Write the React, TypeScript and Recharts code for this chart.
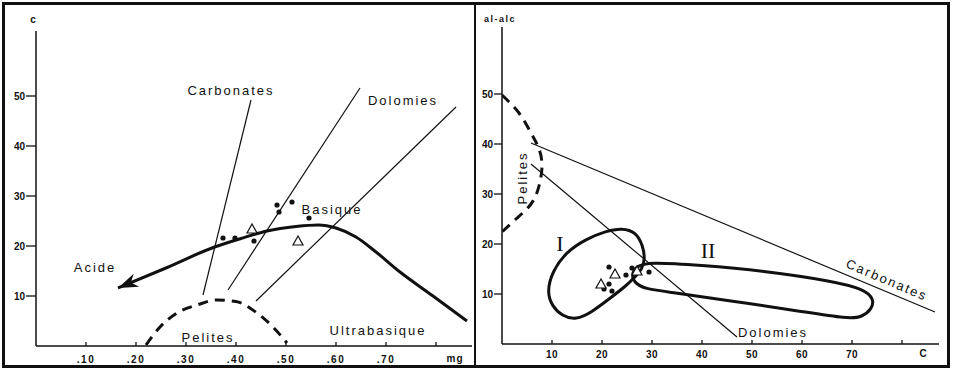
import React from "react";
import { ComposedChart, Line, Scatter, XAxis, YAxis, ReferenceDot } from "recharts";

// ---- left diagram : c vs mg ----
const mgTicks = [0.1, 0.2, 0.3, 0.4, 0.5, 0.6, 0.7, 0.8];
const cTicks = [10, 20, 30, 40, 50];

const trendCurve = [
    { x: 0.164, y: 11.6 },
    { x: 0.26, y: 15.6 },
    { x: 0.352, y: 19.6 },
    { x: 0.41, y: 21.5 },
    { x: 0.462, y: 23.0 },
    { x: 0.52, y: 23.9 },
    { x: 0.565, y: 24.2 },
    { x: 0.6, y: 23.6 },
    { x: 0.64, y: 21.8 },
    { x: 0.68, y: 18.8 },
    { x: 0.728, y: 14.8 },
    { x: 0.794, y: 10.0 },
    { x: 0.862, y: 5.0 },
];
const carbonatesMg = [
    { x: 0.334, y: 10.2 },
    { x: 0.43, y: 49.2 },
];
const dolomiesMgA = [
    { x: 0.384, y: 11.2 },
    { x: 0.648, y: 51.6 },
];
const dolomiesMgB = [
    { x: 0.44, y: 9.0 },
    { x: 0.84, y: 47.8 },
];
const pelitesMg = [
    { x: 0.22, y: 0.2 },
    { x: 0.248, y: 3.8 },
    { x: 0.282, y: 6.6 },
    { x: 0.322, y: 8.2 },
    { x: 0.362, y: 9.2 },
    { x: 0.4, y: 8.9 },
    { x: 0.442, y: 6.6 },
    { x: 0.474, y: 3.8 },
    { x: 0.502, y: 0.6 },
];
const dotsMg = [
    { x: 0.374, y: 21.6 },
    { x: 0.398, y: 21.6 },
    { x: 0.436, y: 21.0 },
    { x: 0.482, y: 28.2 },
    { x: 0.486, y: 26.8 },
    { x: 0.512, y: 28.8 },
    { x: 0.546, y: 25.6 },
];
const trianglesMg = [
    { x: 0.432, y: 23.4 },
    { x: 0.524, y: 21.0 },
];

// ---- right diagram : al-alc vs C ----
const cAxisTicks = [10, 20, 30, 40, 50, 60, 70, 80];
const alTicks = [10, 20, 30, 40, 50];

const pelitesAl = [
    { x: 0, y: 49.8 },
    { x: 3.4, y: 46.2 },
    { x: 5.8, y: 42.2 },
    { x: 7.4, y: 39.0 },
    { x: 8.0, y: 35.6 },
    { x: 7.4, y: 31.6 },
    { x: 5.8, y: 28.0 },
    { x: 2.8, y: 25.0 },
    { x: 0, y: 22.4 },
];
const carbonatesAl = [
    { x: 5.8, y: 40.2 },
    { x: 86.6, y: 6.4 },
];
const dolomiesAl = [
    { x: 5.8, y: 36.0 },
    { x: 47, y: 1.4 },
];
const fieldOne = [
    { x: 9, y: 10.4 },
    { x: 10, y: 14.4 },
    { x: 12.8, y: 18.4 },
    { x: 16.8, y: 21 },
    { x: 20.8, y: 22.6 },
    { x: 24, y: 23.2 },
    { x: 26.8, y: 22.4 },
    { x: 28.2, y: 19.6 },
    { x: 28.6, y: 17 },
    { x: 28, y: 15 },
    { x: 26.8, y: 13.6 },
    { x: 24.8, y: 11.6 },
    { x: 21.4, y: 9 },
    { x: 18, y: 6.4 },
    { x: 14.8, y: 4.8 },
    { x: 12, y: 5.6 },
    { x: 10, y: 7.6 },
];
const fieldTwo = [
    { x: 25.8, y: 13.6 },
    { x: 26.8, y: 15.6 },
    { x: 29.4, y: 16.4 },
    { x: 39.4, y: 15.8 },
    { x: 52.8, y: 14.6 },
    { x: 66, y: 12.6 },
    { x: 72.4, y: 11 },
    { x: 74.4, y: 9 },
    { x: 74, y: 7 },
    { x: 72, y: 5.4 },
    { x: 69.4, y: 5 },
    { x: 59.4, y: 6.6 },
    { x: 46, y: 8.6 },
    { x: 33.4, y: 10.4 },
    { x: 28.8, y: 11 },
    { x: 26.8, y: 12 },
];
const dotsAl = [
    { x: 21.4, y: 15.4 },
    { x: 20.4, y: 11 },
    { x: 22, y: 10.6 },
    { x: 21.4, y: 12 },
    { x: 24.8, y: 13.8 },
    { x: 26, y: 15.2 },
    { x: 29.4, y: 14.4 },
];
const trianglesAl = [
    { x: 22.6, y: 14 },
    { x: 19.8, y: 12 },
    { x: 27, y: 14.6 },
];

const INK = "#111";
const SANS = "'Liberation Sans', Arial, sans-serif";

const DotShape = (p: any) => <circle cx={p.cx} cy={p.cy} r={2.6} fill={INK} />;
const TriShape = (p: any) => (
    <polygon
        points={`${p.cx},${p.cy - 5} ${p.cx - 5},${p.cy + 4} ${p.cx + 5},${p.cy + 4}`}
        fill="#fff"
        stroke={INK}
        strokeWidth={1.2}
    />
);

function note(x: number, y: number, text: string, opts: any = {}) {
    const { size = 13, spacing = 2, rotate = 0, family = SANS, weight = "normal" } = opts;
    return (
        <ReferenceDot
            key={text + x}
            x={x}
            y={y}
            r={0}
            ifOverflow="visible"
            shape={(p: any) => (
                <text
                    x={p.cx}
                    y={p.cy}
                    textAnchor="middle"
                    dominantBaseline="central"
                    fontFamily={family}
                    fontSize={size}
                    fontWeight={weight}
                    letterSpacing={spacing}
                    fill={INK}
                    transform={rotate ? `rotate(${rotate} ${p.cx} ${p.cy})` : undefined}
                >
                    {text}
                </text>
            )}
        />
    );
}

const bottomTick = (dy: number, hide: number, spacing: number, fmt: (v: number) => string) => (p: any) => (
    <g>
        <line x1={p.x} y1={p.y} x2={p.x} y2={p.y - 4} stroke={INK} strokeWidth={1.3} />
        {p.payload.value !== hide && (
            <text
                x={p.x}
                y={p.y + dy}
                textAnchor="middle"
                dominantBaseline="central"
                fontFamily={SANS}
                fontSize={10}
                fontWeight="bold"
                letterSpacing={spacing}
                fill={INK}
            >
                {fmt(p.payload.value)}
            </text>
        )}
    </g>
);

const leftTick = (len: number) => (p: any) => (
    <g>
        <line x1={p.x - len} y1={p.y} x2={p.x} y2={p.y} stroke={INK} strokeWidth={1.3} />
        <text x={p.x - len - 1} y={p.y} textAnchor="end" dominantBaseline="central" fontFamily={SANS} fontSize={10} fontWeight="bold" fill={INK}>
            {p.payload.value}
        </text>
    </g>
);

function curve(data: any[], key: string, type: any, width: number, dash?: string) {
    return (
        <Line
            key={key}
            data={data}
            dataKey="y"
            type={type}
            stroke={INK}
            strokeWidth={width}
            strokeDasharray={dash}
            dot={false}
            activeDot={false}
            isAnimationActive={false}
        />
    );
}

export default function App() {
    return (
        <div style={{ position: "absolute", left: 0, top: 0, width: 953, height: 371, background: "#fff" }}>
            <div style={{ position: "absolute", left: 0, top: 0 }}>
                <ComposedChart width={475} height={371} margin={{ top: 31, right: 3, bottom: 5, left: 0 }}>
                    <XAxis
                        type="number"
                        dataKey="x"
                        domain={[0, 0.872]}
                        ticks={mgTicks}
                        height={20}
                        tickSize={0}
                        tickMargin={0}
                        allowDataOverflow
                        axisLine={{ stroke: INK, strokeWidth: 1.5 }}
                        tick={bottomTick(13, 0.8, 1.5, (v) => v.toFixed(2).replace("0.", "."))}
                    />
                    <YAxis
                        type="number"
                        dataKey="y"
                        domain={[0, 63]}
                        ticks={cTicks}
                        width={36}
                        tickSize={0}
                        tickMargin={0}
                        allowDataOverflow
                        axisLine={{ stroke: INK, strokeWidth: 1.5 }}
                        tick={leftTick(10)}
                    />
                    {curve(carbonatesMg, "carb", "linear", 1.2)}
                    {curve(dolomiesMgA, "dolA", "linear", 1.2)}
                    {curve(dolomiesMgB, "dolB", "linear", 1.2)}
                    {curve(pelitesMg, "pel", "monotone", 3, "10 7")}
                    {curve(trendCurve, "trend", "monotone", 3)}
                    <Scatter data={dotsMg} shape={DotShape} isAnimationActive={false} />
                    <Scatter data={trianglesMg} shape={TriShape} isAnimationActive={false} />
                    <ReferenceDot
                        x={trendCurve[0].x}
                        y={trendCurve[0].y}
                        r={0}
                        ifOverflow="visible"
                        shape={(p: any) => (
                            <polygon
                                points="0,0 -20,-7 -14,0 -20,7"
                                fill={INK}
                                transform={`translate(${p.cx} ${p.cy}) rotate(157)`}
                            />
                        )}
                    />
                    {note(-0.006, 65.4, "c", { size: 10, weight: "bold", spacing: 0 })}
                    {note(0.39, 51.2, "Carbonates")}
                    {note(0.734, 49.2, "Dolomies")}
                    {note(0.592, 27.4, "Basique")}
                    {note(0.118, 15.8, "Acide")}
                    {note(0.344, 1.8, "Pelites")}
                    {note(0.684, 3.2, "Ultrabasique")}
                    {note(0.838, -2.4, "mg", { size: 10, weight: "bold", spacing: 1 })}
                </ComposedChart>
            </div>
            <div style={{ position: "absolute", left: 475, top: 0 }}>
                <ComposedChart width={478} height={371} margin={{ top: 27, right: 14, bottom: 7, left: 0 }}>
                    <XAxis
                        type="number"
                        dataKey="x"
                        domain={[0, 87.4]}
                        ticks={cAxisTicks}
                        height={20}
                        tickSize={0}
                        tickMargin={0}
                        allowDataOverflow
                        axisLine={{ stroke: INK, strokeWidth: 1.5 }}
                        tick={bottomTick(10, 80, 0.5, (v) => String(v))}
                    />
                    <YAxis
                        type="number"
                        dataKey="y"
                        domain={[0, 63.4]}
                        ticks={alTicks}
                        width={27}
                        tickSize={0}
                        tickMargin={0}
                        allowDataOverflow
                        axisLine={{ stroke: INK, strokeWidth: 1.5 }}
                        tick={leftTick(8)}
                    />
                    {curve(carbonatesAl, "carb", "linear", 1.2)}
                    {curve(dolomiesAl, "dol", "linear", 1.2)}
                    {curve(pelitesAl, "pel", "natural", 3, "10 7")}
                    {curve(fieldOne, "f1", "basisClosed", 3)}
                    {curve(fieldTwo, "f2", "basisClosed", 3)}
                    <Scatter data={dotsAl} shape={DotShape} isAnimationActive={false} />
                    <Scatter data={trianglesAl} shape={TriShape} isAnimationActive={false} />
                    {note(-0.4, 65, "al-alc", { size: 9, weight: "bold", spacing: 1.5 })}
                    {note(4, 33.2, "Pelites", { rotate: -90 })}
                    {note(11.6, 20.2, "I", { size: 22, spacing: 0, family: "'Liberation Serif', serif" })}
                    {note(41.2, 18.8, "II", { size: 22, spacing: 0, family: "'Liberation Serif', serif" })}
                    {note(77, 12.8, "Carbonates", { rotate: 23 })}
                    {note(54.2, 2.4, "Dolomies")}
                    {note(84.2, -1.8, "C", { size: 10, weight: "bold", spacing: 0 })}
                </ComposedChart>
            </div>
            <div
                style={{
                    position: "absolute",
                    left: 2,
                    top: 2,
                    width: 948,
                    height: 366,
                    boxSizing: "border-box",
                    border: "3px solid #111",
                    pointerEvents: "none",
                }}
            />
            <div style={{ position: "absolute", left: 474, top: 2, width: 2, height: 366, background: INK, pointerEvents: "none" }} />
        </div>
    );
}
